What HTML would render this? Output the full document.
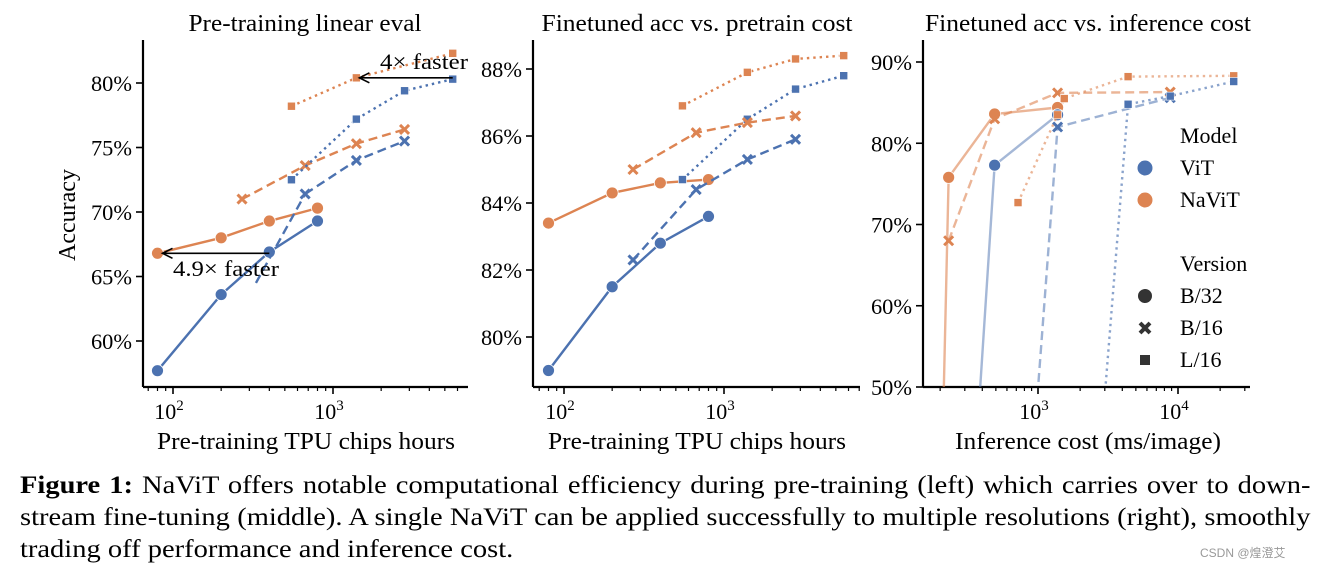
<!DOCTYPE html>
<html><head><meta charset="utf-8"><style>
body{margin:0;background:#fff;width:1331px;height:571px;overflow:hidden;font-family:"Liberation Serif",serif}
svg text{font-family:"Liberation Serif",serif}
.cap{position:absolute;left:20px;width:1132px;font-size:25px;color:#000;white-space:nowrap;line-height:32px;transform-origin:0 0;transform:scaleX(1.14)}
.cap div{text-align:justify;text-align-last:justify}
.cap div.last{text-align-last:left}
</style></head><body>
<svg id="chart" width="1331" height="571" style="position:absolute;left:0;top:0"></svg>
<div class="cap" style="top:470px"><div><b>Figure 1:</b> NaViT offers notable computational efficiency during pre-training (left) which carries over to down-</div><div>stream fine-tuning (middle). A single NaViT can be applied successfully to multiple resolutions (right), smoothly</div><div class="last">trading off performance and inference cost.</div></div>
<div style="position:absolute;left:1200px;top:544px;font-size:12px;color:#999;font-family:'Liberation Sans','Noto Sans CJK SC',sans-serif">CSDN @煌澄艾</div>
<script>
// Panel 1 data
const p1BlueB32X=[80,200,400,800], p1BlueB32Y=[57.7,63.6,66.9,69.3];
const p1OrB32X=[80,200,400,800], p1OrB32Y=[66.8,68,69.3,70.3];
const p1OrB16X=[270,670,1400,2800], p1OrB16Y=[71,73.6,75.3,76.4];
const p1BlueB16X=[270,670,1400,2800], p1BlueB16Y=[63.2,71.4,74,75.5];
const p1BlueL16X=[550,1400,2800,5600], p1BlueL16Y=[72.5,77.2,79.4,80.3];
const p1OrL16X=[550,1400,5600], p1OrL16Y=[78.2,80.4,82.3];
const p1YTicks=[60,65,70,75,80];
// Panel 2 data
const p2BlueB32X=[80,200,400,800], p2BlueB32Y=[79,81.5,82.8,83.6];
const p2OrB32X=[80,200,400,800], p2OrB32Y=[83.4,84.3,84.6,84.7];
const p2OrB16X=[270,670,1400,2800], p2OrB16Y=[85,86.1,86.4,86.6];
const p2BlueB16X=[270,670,1400,2800], p2BlueB16Y=[82.3,84.4,85.3,85.9];
const p2BlueL16X=[550,1400,2800,5600], p2BlueL16Y=[84.7,86.5,87.4,87.8];
const p2OrL16X=[550,1400,2800,5600], p2OrL16Y=[86.9,87.9,88.3,88.4];
const p2YTicks=[80,82,84,86,88];
// Panel 3 data
const p3OrB32X=[200,230,490,1380], p3OrB32Y=[30,75.8,83.6,84.4];
const p3BlueB32X=[325,490,1380], p3BlueB32Y=[30,77.3,83.5];
const p3OrB16X=[230,490,1380,8800], p3OrB16Y=[68,83,86.2,86.3];
const p3BlueB16X=[820,1380,8800], p3BlueB16Y=[30,82,85.6];
const p3OrL16X=[720,1380,1540,4400,25000], p3OrL16Y=[72.7,83.5,85.5,88.2,88.3];
const p3BlueL16X=[2450,4400,8800,25000], p3BlueL16Y=[30,84.8,85.8,87.6];
const p3YTicks=[50,60,70,80,90];

const B='#4c72b0', O='#dd8452';
const svg=document.getElementById('chart');
const NS='http://www.w3.org/2000/svg';
function el(t,a,p){const e=document.createElementNS(NS,t);for(const k in a)e.setAttribute(k,a[k]);(p||svg).appendChild(e);return e;}

function panel(cfg){
  const g=el('g',{});
  
  
  const sx=v=>cfg.x0+cfg.dec*(Math.log10(v)-cfg.lx0);
  const sy=v=>cfg.y0+(v-cfg.v0)*cfg.vs;
  const cid='c'+cfg.name;
  const cp=el('clipPath',{id:cid},g);
  el('rect',{x:cfg.left,y:cfg.top-10,width:cfg.right-cfg.left+5,height:387-cfg.top+10},cp);
  el('line',{x1:cfg.left,y1:cfg.top,x2:cfg.left,y2:387,stroke:'#000','stroke-width':2.2},g);
  el('line',{x1:cfg.left,y1:387,x2:cfg.right,y2:387,stroke:'#000','stroke-width':2.2},g);
  cfg.yticks.forEach(t=>{const y=sy(t);
    el('line',{x1:cfg.left-7,y1:y,x2:cfg.left,y2:y,stroke:'#000','stroke-width':1.6},g);
    const tx=el('text',{x:cfg.left-11,y:y+8,'text-anchor':'end','font-size':22,textLength:41,lengthAdjust:'spacingAndGlyphs'},g);tx.textContent=t+'%';
    
    });
  for(let d=1;d<=5;d++)for(let m=1;m<10;m++){const v=m*Math.pow(10,d);const x=sx(v);
    if(x<cfg.left+2||x>cfg.right)continue;
    el('line',{x1:x,y1:387,x2:x,y2:387+(m==1?7:4),stroke:'#000','stroke-width':m==1?1.6:1.2},g);
    if(m==1){const tx=el('text',{x:x-4,y:419,'text-anchor':'middle','font-size':22},g);
      tx.innerHTML='10<tspan dy="-9" font-size="15">'+d+'</tspan>';
      
      }}
  const ti=el('text',{x:cfg.tx,y:31,'text-anchor':'middle','font-size':24,textLength:cfg.tw,lengthAdjust:'spacingAndGlyphs'},g);ti.textContent=cfg.title;
  
  
  const xl=el('text',{x:cfg.xlx,y:449,'text-anchor':'middle','font-size':24,textLength:cfg.xw,lengthAdjust:'spacingAndGlyphs'},g);xl.textContent=cfg.xlabel;
  
  
  const dg=el('g',{'clip-path':'url(#'+cid+')'},g);
  cfg.series.forEach(s=>{
    const pts=s.x.map((v,i)=>sx(v)+','+sy(s.y[i])).join(' ');
    const pl=el('polyline',{points:pts,fill:'none',stroke:s.c,'stroke-width':2.4,'stroke-dasharray':s.ls=='--'?'9,5':s.ls==':'?'2.4,4':'none','stroke-opacity':s.a||1},dg);
    
    
    s.x.forEach((v,i)=>{const x=sx(v),y=sy(s.y[i]);let m;
      if(s.m=='o')m=el('circle',{cx:x,cy:y,r:6,fill:s.c,stroke:'#fff','stroke-width':0.8},dg);
      else if(s.m=='s')m=el('rect',{x:x-4,y:y-4,width:8,height:8,fill:s.c,stroke:'#fff','stroke-width':0.6},dg);
      else m=el('path',{d:`M${x-4.5},${y-4.5}L${x+4.5},${y+4.5}M${x-4.5},${y+4.5}L${x+4.5},${y-4.5}`,stroke:s.c,'stroke-width':3},dg);
      
      });
  });
  return {g,sx,sy};
}

const P1=panel({name:'panel-pretrain-linear',left:143,right:468,top:40,x0:173,lx0:2,dec:160,y0:83,v0:80,vs:-12.9,yticks:p1YTicks,
  title:'Pre-training linear eval',tx:305,tw:233,xlabel:'Pre-training TPU chips hours',xlx:306,xw:298,
  series:[{x:p1BlueB32X,y:p1BlueB32Y,c:B,ls:'-',m:'o',n:'vit-b32-line'},{x:p1OrB32X,y:p1OrB32Y,c:O,ls:'-',m:'o',n:'navit-b32-line'},
  {x:p1OrB16X,y:p1OrB16Y,c:O,ls:'--',m:'x',n:'navit-b16-line'},{x:p1BlueB16X.slice(1),y:p1BlueB16Y.slice(1),c:B,ls:'--',m:'x',n:'vit-b16-line'},
  {x:p1BlueL16X,y:p1BlueL16Y,c:B,ls:':',m:'s',n:'vit-l16-line'},{x:p1OrL16X,y:p1OrL16Y,c:O,ls:':',m:'s',n:'navit-l16-line'}]});
(function(){const l=el('line',{x1:P1.sx(p1BlueB16X[0]+60),y1:P1.sy(p1BlueB16Y[0]+1.3),x2:P1.sx(p1BlueB16X[1]),y2:P1.sy(p1BlueB16Y[1]),stroke:B,'stroke-width':2.4,'stroke-dasharray':'9,5'},P1.g);

})();
const yl=el('text',{x:0,y:0,'text-anchor':'middle','font-size':24,transform:'translate(75,215) rotate(-90)'});yl.textContent='Accuracy';


el('defs',{}).innerHTML='<marker id="ah" markerWidth="14" markerHeight="14" refX="11" refY="6" orient="auto" markerUnits="userSpaceOnUse"><path d="M1,1 L11,6 L1,11" fill="none" stroke="#000" stroke-width="1.6"/></marker>';
const a1=el('line',{x1:P1.sx(5600),y1:P1.sy(80.4),x2:P1.sx(1400)+3,y2:P1.sy(80.4),stroke:'#000','stroke-width':1.6,'marker-end':'url(#ah)'});


const a2=el('line',{x1:P1.sx(400),y1:P1.sy(66.8),x2:P1.sx(80)+5,y2:P1.sy(66.8),stroke:'#000','stroke-width':1.6,'marker-end':'url(#ah)'});


let t=el('text',{x:380,y:69,'font-size':22,textLength:88,lengthAdjust:'spacingAndGlyphs'});t.textContent='4× faster';


t=el('text',{x:173,y:276,'font-size':22,textLength:106,lengthAdjust:'spacingAndGlyphs'});t.textContent='4.9× faster';



panel({name:'panel-finetune-pretrain',left:533,right:860,top:40,x0:564,lx0:2,dec:160,y0:69,v0:88,vs:-33.5,yticks:p2YTicks,
  title:'Finetuned acc vs. pretrain cost',tx:697,tw:311,xlabel:'Pre-training TPU chips hours',xlx:697,xw:298,
  series:[{x:p2BlueB32X,y:p2BlueB32Y,c:B,ls:'-',m:'o',n:'vit-b32-line'},{x:p2OrB32X,y:p2OrB32Y,c:O,ls:'-',m:'o',n:'navit-b32-line'},
  {x:p2BlueL16X,y:p2BlueL16Y,c:B,ls:':',m:'s',n:'vit-l16-line'},{x:p2OrL16X,y:p2OrL16Y,c:O,ls:':',m:'s',n:'navit-l16-line'},
  {x:p2BlueB16X,y:p2BlueB16Y,c:B,ls:'--',m:'x',n:'vit-b16-line'},{x:p2OrB16X,y:p2OrB16Y,c:O,ls:'--',m:'x',n:'navit-b16-line'}]});

panel({name:'panel-finetune-inference',left:923,right:1250,top:40,x0:1038,lx0:3,dec:140,y0:62,v0:90,vs:-8.125,yticks:p3YTicks,
  title:'Finetuned acc vs. inference cost',tx:1088,tw:326,xlabel:'Inference cost (ms/image)',xlx:1088,xw:266,
  series:[{x:p3OrB32X,y:p3OrB32Y,c:O,ls:'-',m:'o',a:0.6,n:'navit-b32-line'},{x:p3BlueB32X,y:p3BlueB32Y,c:B,ls:'-',m:'o',a:0.5,n:'vit-b32-line'},
  {x:p3OrB16X,y:p3OrB16Y,c:O,ls:'--',m:'x',a:0.6,n:'navit-b16-line'},{x:p3BlueB16X,y:p3BlueB16Y,c:B,ls:'--',m:'x',a:0.55,n:'vit-b16-line'},
  {x:p3OrL16X,y:p3OrL16Y,c:O,ls:':',m:'s',a:0.6,n:'navit-l16-line'},{x:p3BlueL16X,y:p3BlueL16Y,c:B,ls:':',m:'s',a:0.65,n:'vit-l16-line'}]});

const lg=el('g',{});


[['Model',1180,135,null],['ViT',1180,167,'B'],['NaViT',1180,199,'O'],['Version',1180,263,null],['B/32',1180,295,'c'],['B/16',1180,327,'x'],['L/16',1180,359,'s']].forEach(r=>{
  const tx=el('text',{x:r[1],y:r[2]+8,'font-size':22},lg);tx.textContent=r[0];
  
  
  const cx=1145,cy=r[2]+1;
  if(r[3]=='B')el('circle',{cx,cy,r:7.5,fill:B},lg);
  if(r[3]=='O')el('circle',{cx,cy,r:7.5,fill:O},lg);
  if(r[3]=='c')el('circle',{cx,cy,r:7,fill:'#333'},lg);
  if(r[3]=='s')el('rect',{x:cx-5,y:cy-5,width:10,height:10,fill:'#333'},lg);
  if(r[3]=='x')el('path',{d:`M${cx-5},${cy-5}L${cx+5},${cy+5}M${cx-5},${cy+5}L${cx+5},${cy-5}`,stroke:'#333','stroke-width':4},lg);
});
</script>
</body></html>
